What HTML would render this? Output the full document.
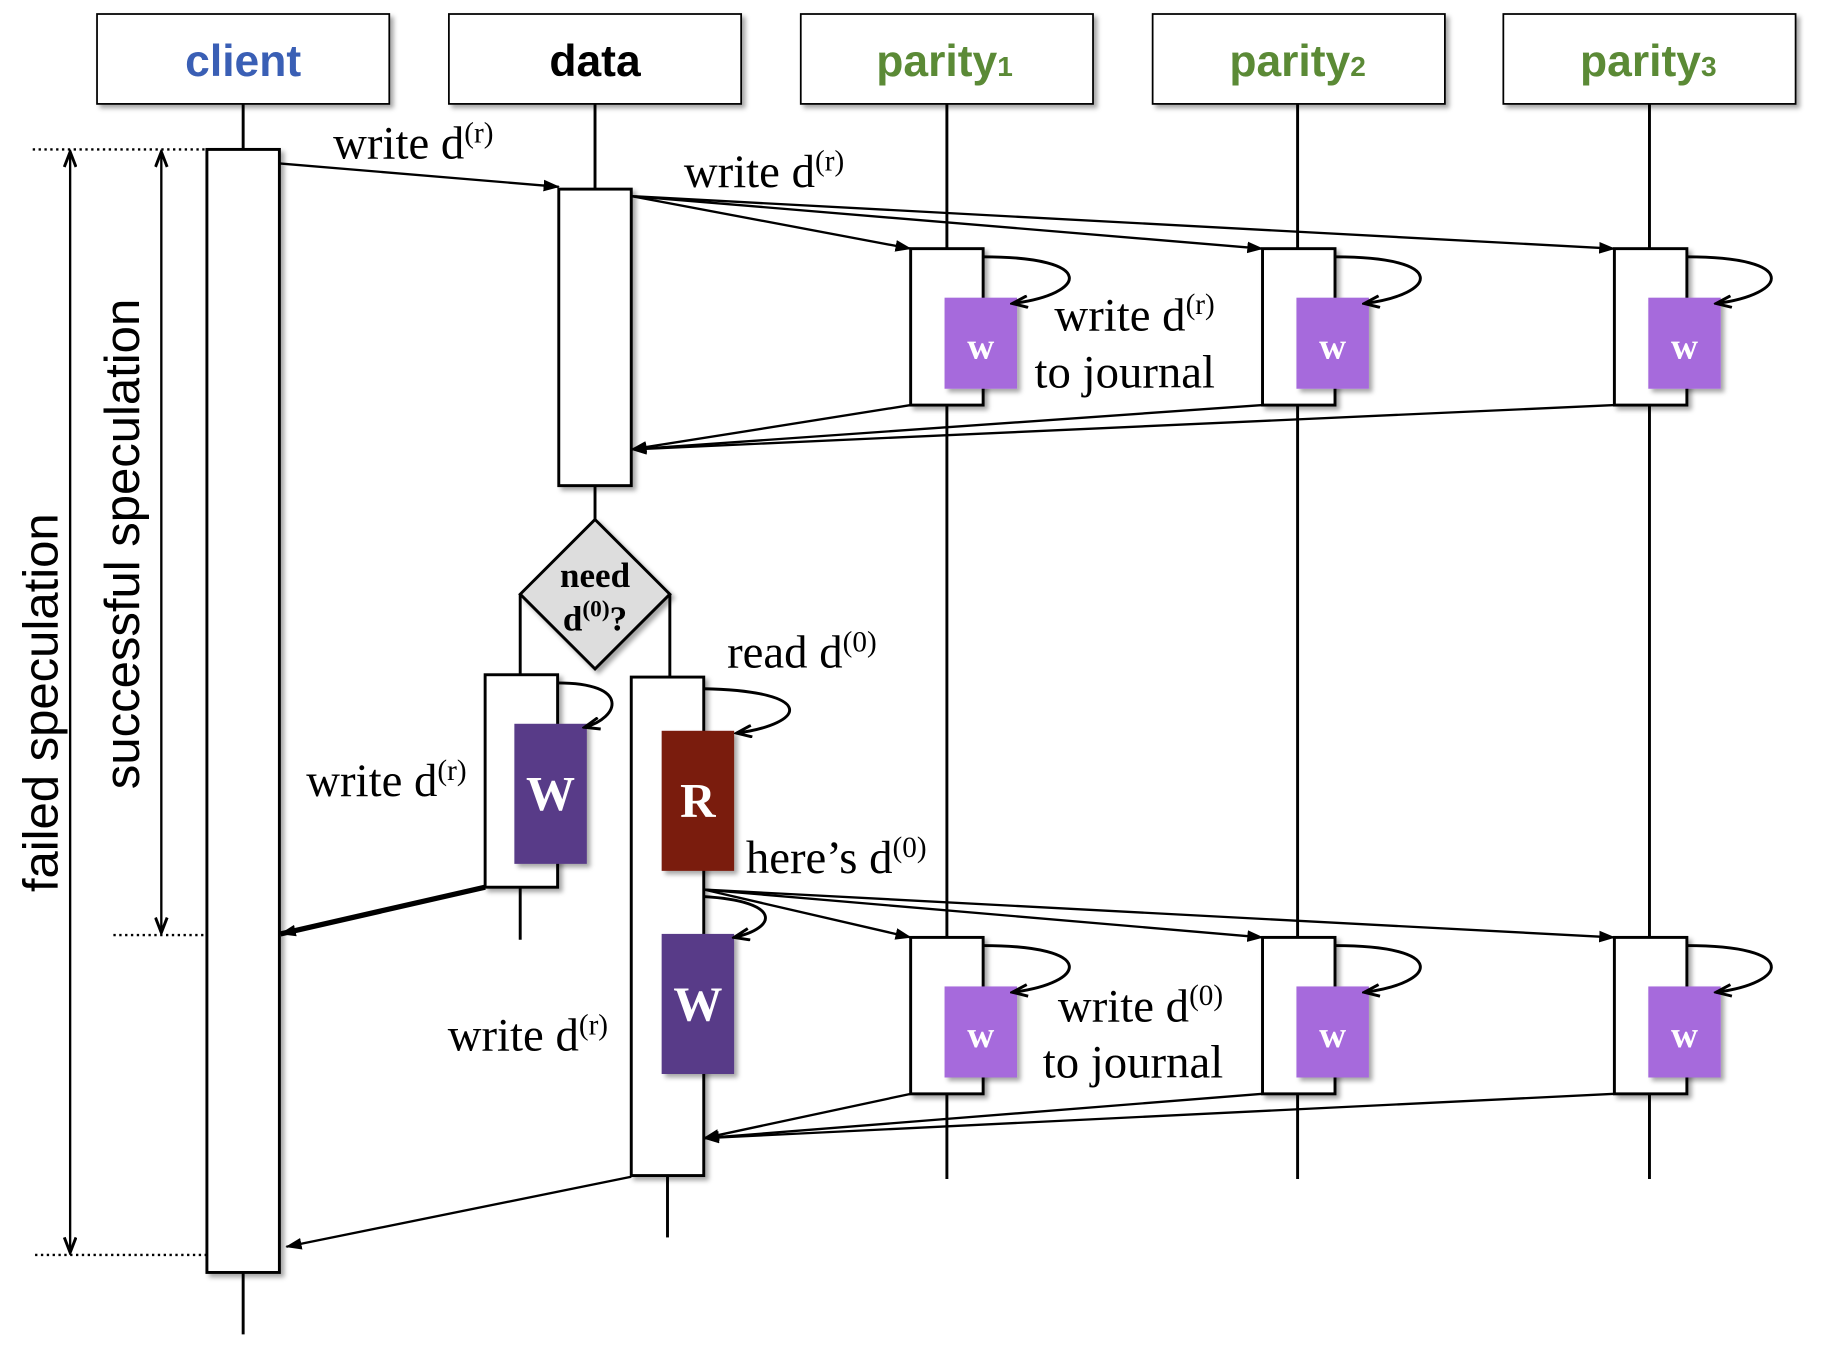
<!DOCTYPE html>
<html><head><meta charset="utf-8"><style>html,body{margin:0;padding:0;background:#fff}svg{display:block}</style></head>
<body>
<svg width="1833" height="1353" viewBox="0 0 1568 1159" preserveAspectRatio="none" xmlns="http://www.w3.org/2000/svg">
<defs>
<marker id="a" markerWidth="14" markerHeight="12" refX="13" refY="6" orient="auto" markerUnits="userSpaceOnUse" viewBox="0 0 14 12"><path d="M0,1 L14,6 L0,11 z" fill="#000"/></marker>
<marker id="o" markerWidth="16" markerHeight="12" refX="14" refY="6" orient="auto-start-reverse" markerUnits="userSpaceOnUse" viewBox="0 0 16 12"><path d="M1,1 L14,6 L1,11" fill="none" stroke="#000" stroke-width="2.5"/></marker>
<filter id="s" x="-20%" y="-20%" width="140%" height="140%"><feDropShadow dx="3" dy="3" stdDeviation="2" flood-color="#000" flood-opacity="0.35"/></filter>
</defs>
<g font-family="Liberation Sans, sans-serif" font-weight="bold" font-size="38" text-anchor="middle">
<rect x="83" y="12" width="250" height="77" fill="#fff" stroke="#000" stroke-width="1.5" filter="url(#s)"/>
<rect x="384" y="12" width="250" height="77" fill="#fff" stroke="#000" stroke-width="1.5" filter="url(#s)"/>
<rect x="685" y="12" width="250" height="77" fill="#fff" stroke="#000" stroke-width="1.5" filter="url(#s)"/>
<rect x="986" y="12" width="250" height="77" fill="#fff" stroke="#000" stroke-width="1.5" filter="url(#s)"/>
<rect x="1286" y="12" width="250" height="77" fill="#fff" stroke="#000" stroke-width="1.5" filter="url(#s)"/>
<text x="208" y="65" fill="#3a5fb5">client</text>
<text x="509" y="65" fill="#000">data</text>
<text x="808" y="65" fill="#5b8a36">parity<tspan font-size="24">1</tspan></text>
<text x="1110" y="65" fill="#5b8a36">parity<tspan font-size="24">2</tspan></text>
<text x="1410" y="65" fill="#5b8a36">parity<tspan font-size="24">3</tspan></text>
</g>
<g stroke="#000" stroke-width="2.5" fill="none">
<line x1="208" y1="89" x2="208" y2="1143"/>
<line x1="509" y1="89" x2="509" y2="162"/>
<line x1="810" y1="89" x2="810" y2="1010"/>
<line x1="1110" y1="89" x2="1110" y2="1010"/>
<line x1="1411" y1="89" x2="1411" y2="1010"/>
<line x1="509" y1="416" x2="509" y2="445"/>
<polyline points="445,509 445,578"/><polyline points="573,509 573,580"/>
<line x1="445" y1="760" x2="445" y2="805"/>
<line x1="571" y1="1007" x2="571" y2="1060"/>
</g>
<g fill="#fff" stroke="#000" stroke-width="2.5" filter="url(#s)">
<rect x="177" y="128" width="62" height="962"/>
<rect x="478" y="162" width="62" height="254"/>
<rect x="779" y="213" width="62" height="134"/>
<rect x="1080" y="213" width="62" height="134"/>
<rect x="1381" y="213" width="62" height="134"/>
<rect x="779" y="803" width="62" height="134"/>
<rect x="1080" y="803" width="62" height="134"/>
<rect x="1381" y="803" width="62" height="134"/>
<rect x="415" y="578" width="62" height="182"/>
<rect x="540" y="580" width="62" height="427"/>
<polygon points="509,445 573,509 509,573 445,509" fill="#ddd"/>
</g>
<g filter="url(#s)">
<rect x="808" y="255" width="62" height="78" fill="#a66bdc"/>
<rect x="1109" y="255" width="62" height="78" fill="#a66bdc"/>
<rect x="1410" y="255" width="62" height="78" fill="#a66bdc"/>
<rect x="808" y="845" width="62" height="78" fill="#a66bdc"/>
<rect x="1109" y="845" width="62" height="78" fill="#a66bdc"/>
<rect x="1410" y="845" width="62" height="78" fill="#a66bdc"/>
<rect x="440" y="620" width="62" height="120" fill="#583a88"/>
<rect x="566" y="626" width="62" height="120" fill="#7a1c10"/>
<rect x="566" y="800" width="62" height="120" fill="#583a88"/>
</g>
<g font-family="Liberation Serif, serif" font-weight="bold" fill="#fff" text-anchor="middle">
<text x="839" y="307" font-size="32">w</text><text x="1140" y="307" font-size="32">w</text><text x="1441" y="307" font-size="32">w</text>
<text x="839" y="897" font-size="32">w</text><text x="1140" y="897" font-size="32">w</text><text x="1441" y="897" font-size="32">w</text>
<text x="471" y="694" font-size="42">W</text>
<text x="597" y="700" font-size="42">R</text>
<text x="597" y="874" font-size="42">W</text>
<text x="509" y="503" font-size="30" fill="#000">need</text>
<text x="509" y="540" font-size="30" fill="#000">d<tspan font-size="20" dy="-12">(0)</tspan><tspan dy="12">?</tspan></text>
</g>
<g stroke="#000" stroke-width="2" fill="none" marker-end="url(#a)">
<line x1="239" y1="140" x2="478" y2="160"/>
<line x1="540" y1="168" x2="779" y2="213"/>
<line x1="540" y1="168" x2="1080" y2="213"/>
<line x1="540" y1="168" x2="1381" y2="213"/>
<line x1="779" y1="347" x2="540" y2="385"/>
<line x1="1080" y1="347" x2="540" y2="385"/>
<line x1="1381" y1="347" x2="540" y2="385"/>
<line x1="602" y1="762" x2="779" y2="803"/>
<line x1="602" y1="762" x2="1080" y2="803"/>
<line x1="602" y1="762" x2="1381" y2="803"/>
<line x1="779" y1="937" x2="602" y2="975"/>
<line x1="1080" y1="937" x2="602" y2="975"/>
<line x1="1381" y1="937" x2="602" y2="975"/>
<line x1="540" y1="1008" x2="245" y2="1068"/>
</g>
<line x1="415" y1="760" x2="240" y2="800" stroke="#000" stroke-width="4.5" marker-end="url(#a)"/>
<g stroke="#000" stroke-width="2.5" fill="none" marker-end="url(#o)">
<path d="M841,220 C940,220 930,252 866,260"/>
<path d="M1142,220 C1240,220 1230,252 1167,260"/>
<path d="M1443,220 C1540,220 1530,252 1468,260"/>
<path d="M841,810 C940,810 930,842 866,850"/>
<path d="M1142,810 C1240,810 1230,842 1167,850"/>
<path d="M1443,810 C1540,810 1530,842 1468,850"/>
<path d="M477,585 C540,585 530,615 500,623"/>
<path d="M602,590 C700,592 690,620 630,628"/>
<path d="M602,768 C670,772 665,795 628,803"/>
</g>
<g stroke="#000" stroke-width="2" stroke-dasharray="2,3">
<line x1="28" y1="128" x2="177" y2="128"/>
<line x1="97" y1="801" x2="177" y2="801"/>
<line x1="30" y1="1075" x2="177" y2="1075"/>
</g>
<g stroke="#000" stroke-width="2" marker-start="url(#o)" marker-end="url(#o)">
<line x1="60" y1="130" x2="60" y2="1073"/>
<line x1="138" y1="130" x2="138" y2="799"/>
</g>
<g font-family="Liberation Sans, sans-serif" font-size="42" text-anchor="middle" fill="#000">
<text transform="translate(49,602) rotate(-90)">failed speculation</text>
<text transform="translate(119,466) rotate(-90)">successful speculation</text>
</g>
<g font-family="Liberation Serif, serif" font-size="40" fill="#000">
<text x="285" y="136">write d<tspan font-size="25" dy="-14">(r)</tspan></text>
<text x="585" y="160">write d<tspan font-size="25" dy="-14">(r)</tspan></text>
<text x="902" y="283">write d<tspan font-size="25" dy="-14">(r)</tspan></text>
<text x="885" y="332">to journal</text>
<text x="622" y="572">read d<tspan font-size="25" dy="-14">(0)</tspan></text>
<text x="262" y="682">write d<tspan font-size="25" dy="-14">(r)</tspan></text>
<text x="638" y="748">here’s d<tspan font-size="25" dy="-14">(0)</tspan></text>
<text x="905" y="875">write d<tspan font-size="25" dy="-14">(0)</tspan></text>
<text x="892" y="923">to journal</text>
<text x="383" y="900">write d<tspan font-size="25" dy="-14">(r)</tspan></text>
</g>
</svg>
</body></html>
